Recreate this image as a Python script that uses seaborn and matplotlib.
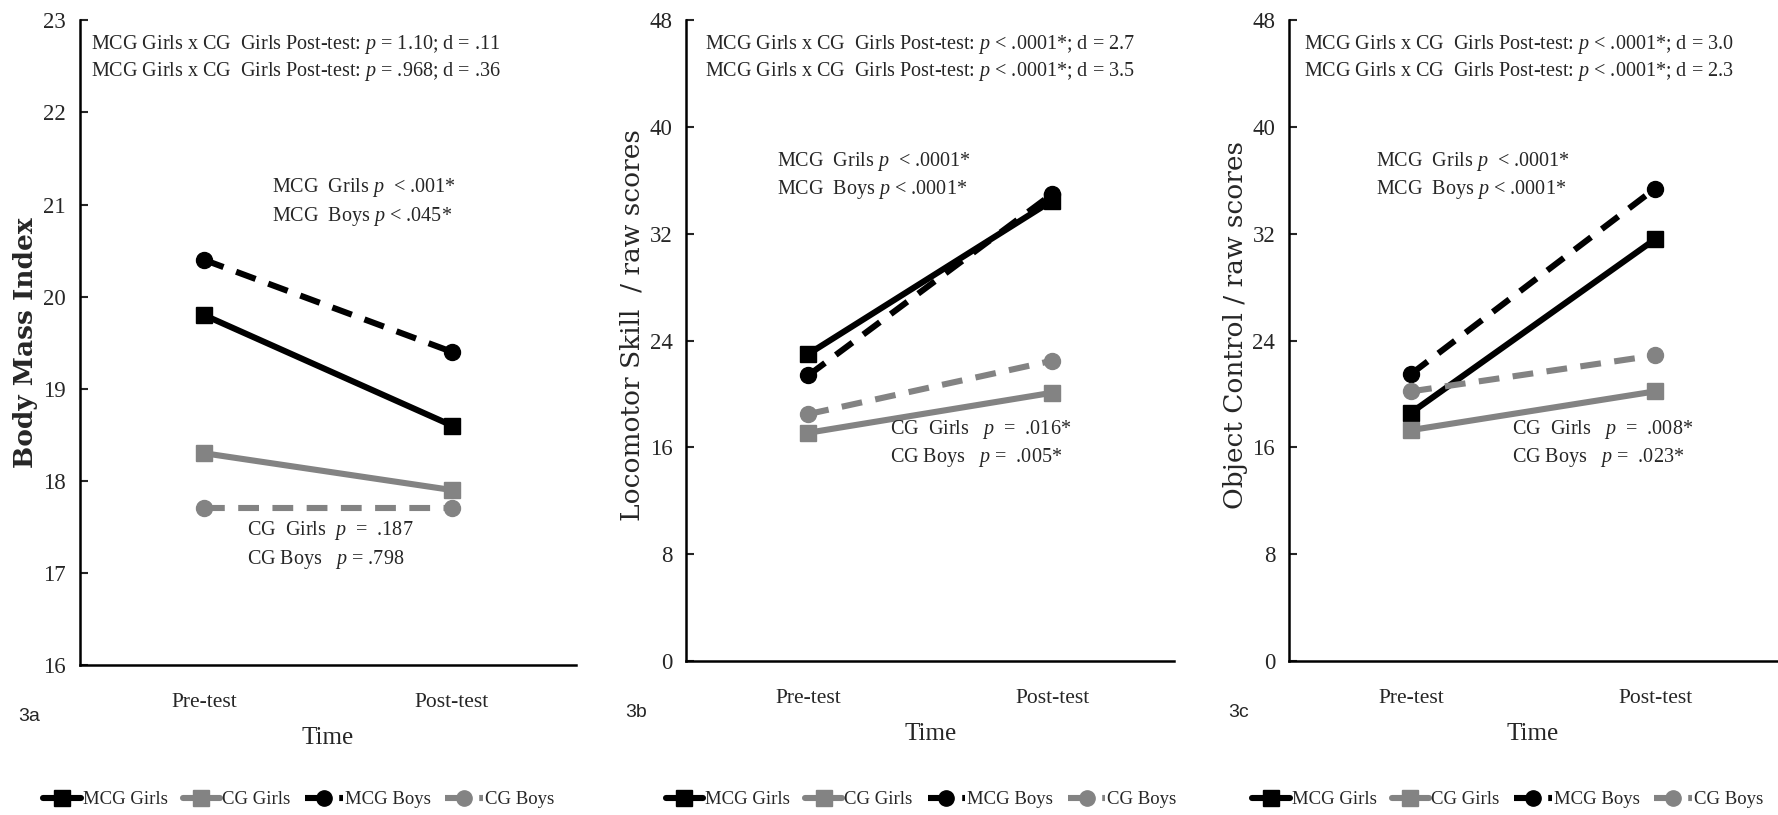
import numpy as np
import pandas as pd
import seaborn as sns
import matplotlib.pyplot as plt
from matplotlib.lines import Line2D

# data
times = ['Pre-test', 'Post-test']
groups = ['MCG Girls', 'CG Girls', 'MCG Boys', 'CG Boys']

bmi_values = [[19.8, 18.6], [18.3, 17.9], [20.4, 19.4], [17.7, 17.7]]
loco_values = [[23.0, 34.5], [17.1, 20.1], [21.4, 35.0], [18.5, 22.5]]
obj_values = [[18.6, 31.6], [17.3, 20.2], [21.5, 35.4], [20.2, 22.9]]

bmi_ticks = [16, 17, 18, 19, 20, 21, 22, 23]
raw_ticks = [0, 8, 16, 24, 32, 40, 48]

sns.set_style('white')
plt.rcParams['font.family'] = ['Liberation Serif', 'DejaVu Serif']
plt.rcParams['mathtext.fontset'] = 'custom'
plt.rcParams['mathtext.rm'] = 'Liberation Serif'
plt.rcParams['mathtext.it'] = 'Liberation Serif:italic'

palette = {'MCG Girls': '#000000', 'CG Girls': '#838383',
           'MCG Boys': '#000000', 'CG Boys': '#838383'}
markers = {'MCG Girls': 's', 'CG Girls': 's', 'MCG Boys': 'o', 'CG Boys': 'o'}
dashes = {'MCG Girls': '', 'CG Girls': '', 'MCG Boys': (3.4, 2.2), 'CG Boys': (3.4, 2.2)}
lw = 4.4

panels = [
    dict(values=bmi_values, ticks=bmi_ticks, ylabel='Body Mass Index', tag='3a', weight='bold',
         rect=[0.045, 0.184, 0.279, 0.791], ylab_y=0.5, leg_x=0.168,
         top=['MCG Girls x CG  Girls Post-test: $p$ = 1.10; d = .11',
              'MCG Girls x CG  Girls Post-test: $p$ = .968; d = .36'],
         top_x=0.022,
         mcg=['MCG  Grils $p$  < .001*', 'MCG  Boys $p$ < .045*'], mcg_xy=(0.387, 0.74),
         cg=['CG  Girls  $p$  =  .187', 'CG Boys   $p$ = .798'], cg_xy=(0.337, 0.208)),
    dict(values=loco_values, ticks=raw_ticks, ylabel='Locomotor Skill  / raw scores', tag='3b',
         weight='normal', rect=[0.386, 0.189, 0.2745, 0.786], ylab_y=0.525, leg_x=0.518,
         top=['MCG Girls x CG  Girls Post-test: $p$ < .0001*; d = 2.7',
              'MCG Girls x CG  Girls Post-test: $p$ < .0001*; d = 3.5'],
         top_x=0.039,
         mcg=['MCG  Grils $p$  < .0001*', 'MCG  Boys $p$ < .0001*'], mcg_xy=(0.186, 0.78),
         cg=['CG  Girls   $p$  =  .016*', 'CG Boys   $p$ =  .005*'], cg_xy=(0.418, 0.362)),
    dict(values=obj_values, ticks=raw_ticks, ylabel='Object Control / raw scores', tag='3c',
         weight='normal', rect=[0.725, 0.189, 0.2745, 0.786], ylab_y=0.525, leg_x=0.848,
         top=['MCG Girls x CG  Girls Post-test: $p$ < .0001*; d = 3.0',
              'MCG Girls x CG  Girls Post-test: $p$ < .0001*; d = 2.3'],
         top_x=0.031,
         mcg=['MCG  Grils $p$  < .0001*', 'MCG  Boys $p$ < .0001*'], mcg_xy=(0.178, 0.78),
         cg=['CG  Girls   $p$  =  .008*', 'CG Boys   $p$ =  .023*'], cg_xy=(0.457, 0.362)),
]

fig = plt.figure(figsize=(17.78, 8.15), dpi=100)

for p in panels:
    ax = fig.add_axes(p['rect'])
    rows = []
    for g, vals in zip(groups, p['values']):
        for i, v in enumerate(vals):
            rows.append({'group': g, 'pos': i, 'value': v})
    df = pd.DataFrame(rows)
    sns.lineplot(data=df, x='pos', y='value', hue='group', style='group',
                 hue_order=groups, style_order=groups, palette=palette,
                 markers=markers, dashes=dashes, markersize=11.5, linewidth=lw,
                 legend=False, sort=False, ax=ax)
    for ln in ax.lines:
        ln.set_markeredgecolor(ln.get_color())
        ln.set_markeredgewidth(1)

    ax.set_xlim(-0.5, 1.5)
    ax.set_ylim(p['ticks'][0], p['ticks'][-1])
    ax.set_yticks(p['ticks'])
    ax.set_xticks([0, 1])
    ax.set_xticklabels(times)
    ax.tick_params(axis='x', length=0, pad=20, labelsize=15.5)
    ax.tick_params(axis='y', direction='in', length=6, width=1.5, pad=10,
                   labelsize=16.5, left=True)
    sns.despine(ax=ax)
    for s in ['left', 'bottom']:
        ax.spines[s].set_linewidth(1.8)
        ax.spines[s].set_color('black')
    ax.set_xlabel('Time', fontsize=18, labelpad=11)
    ax.set_ylabel(p['ylabel'], fontsize=19, family='DejaVu Serif', fontweight=p['weight'])
    ax.yaxis.set_label_coords(-0.085, p['ylab_y'])

    ax.text(p['top_x'], 0.962, p['top'][0], transform=ax.transAxes, fontsize=14.5, va='center')
    ax.text(p['top_x'], 0.92, p['top'][1], transform=ax.transAxes, fontsize=14.5, va='center')
    mx, my = p['mcg_xy']
    ax.text(mx, my, p['mcg'][0], transform=ax.transAxes, fontsize=14.5, va='center')
    ax.text(mx, my - 0.044, p['mcg'][1], transform=ax.transAxes, fontsize=14.5, va='center')
    cx, cy = p['cg_xy']
    ax.text(cx, cy, p['cg'][0], transform=ax.transAxes, fontsize=14.5, va='center')
    ax.text(cx, cy - 0.044, p['cg'][1], transform=ax.transAxes, fontsize=14.5, va='center')

    ax.text(-0.125, -0.08, p['tag'], transform=ax.transAxes, fontsize=14,
            family=['Liberation Sans Narrow', 'Liberation Sans', 'DejaVu Sans'], va='center')

    handles = [Line2D([], [], color=palette[g], marker=markers[g], markersize=11,
                      linewidth=lw, linestyle='-' if dashes[g] == '' else (0, dashes[g]))
               for g in groups]
    fig.legend(handles, groups, loc='center', bbox_to_anchor=(p['leg_x'], 0.019),
               bbox_transform=fig.transFigure, ncol=4, frameon=False, fontsize=13.5,
               handlelength=2.0, handletextpad=0.1, columnspacing=0.8)

fig.savefig('out.png', dpi=100)
